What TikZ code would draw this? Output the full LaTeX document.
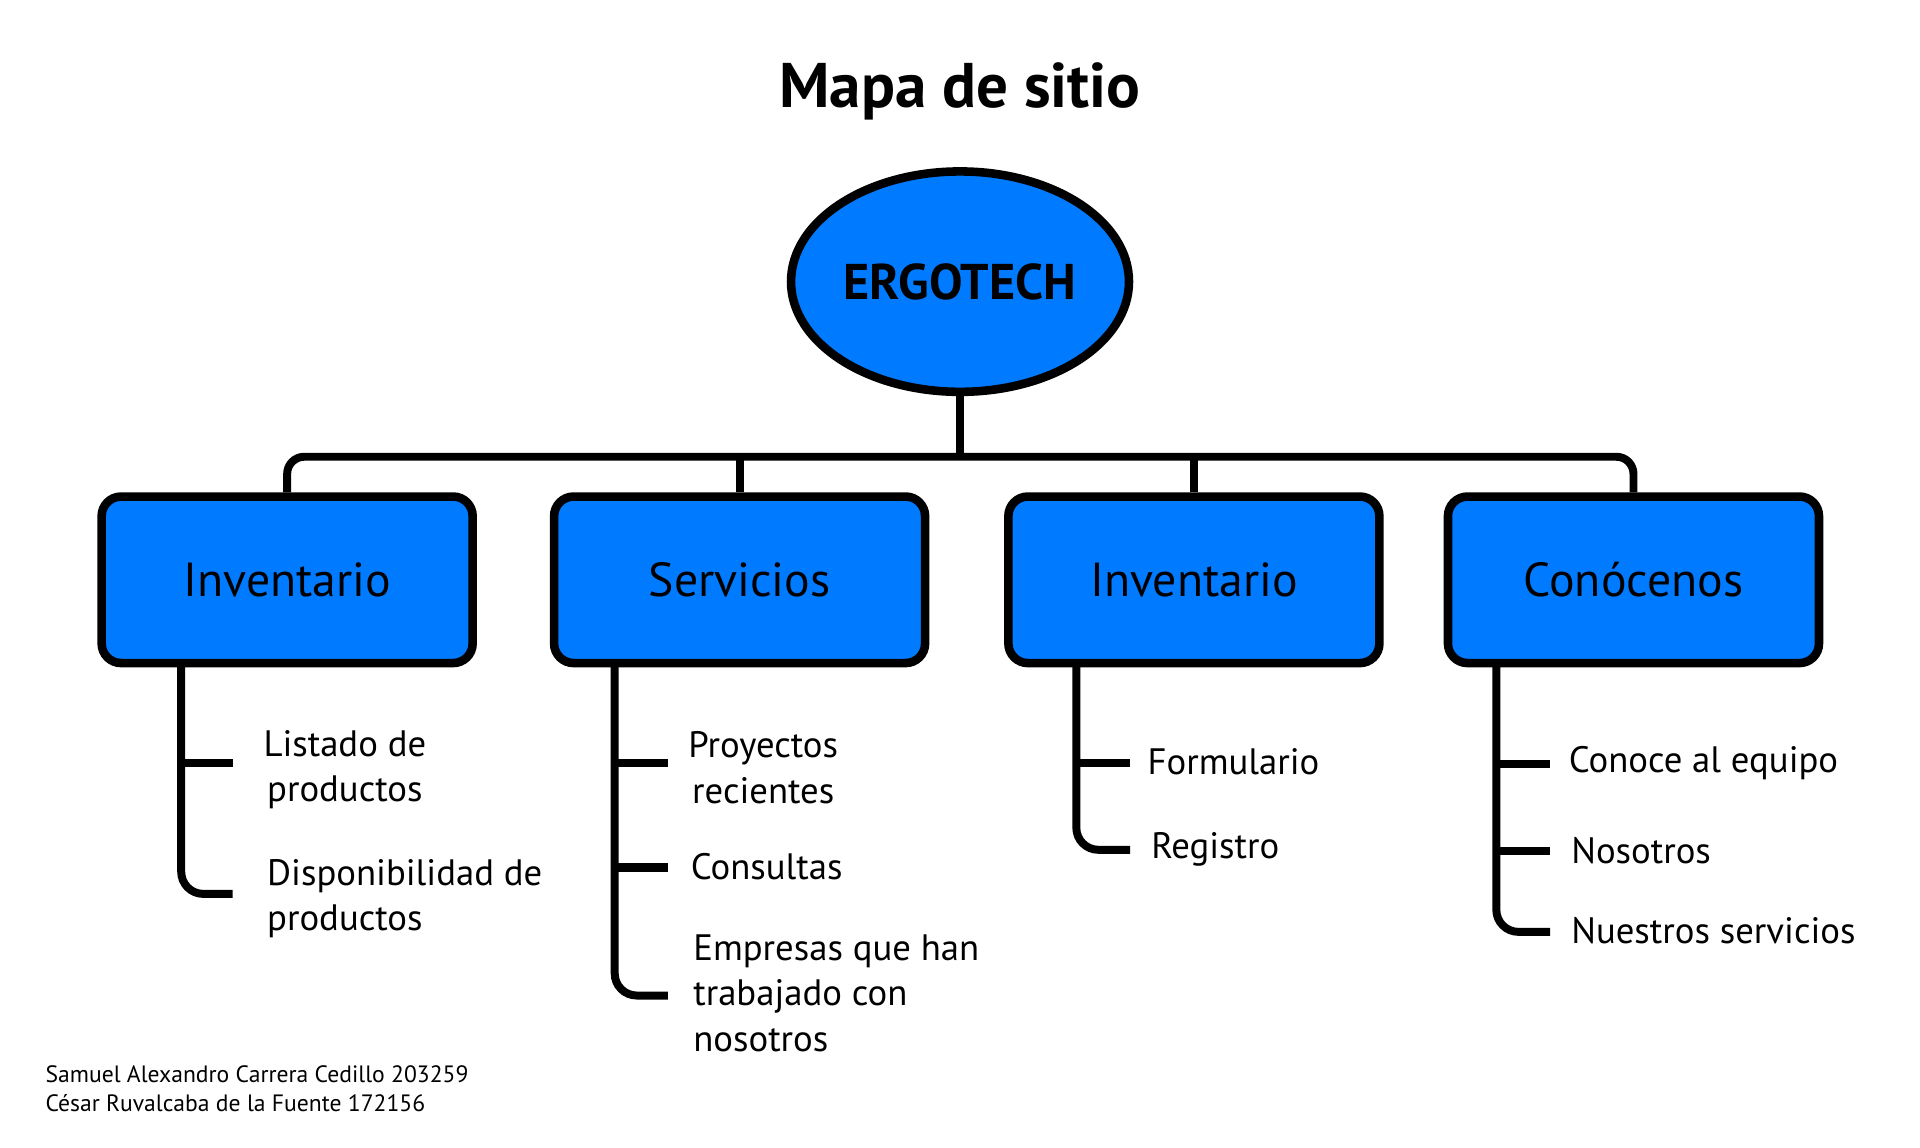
\documentclass[tikz,border=0pt]{standalone}
\usepackage{fontspec}
\setmainfont{PT Sans}
\usetikzlibrary{shapes.geometric}
\definecolor{boxblue}{RGB}{0,122,255}
\tikzset{
  x=1pt, y=-1pt,
  ellnode/.style={ellipse, draw=black, line width=7pt, fill=boxblue, minimum width=276pt, minimum height=180pt, inner sep=0pt},
  catbox/.style={rectangle, rounded corners=16pt, draw=black, line width=7pt, fill=boxblue, minimum width=303pt, minimum height=136pt, inner sep=0pt, font=\fontsize{39}{44}\selectfont},
  conn/.style={line width=6.5pt, draw=black},
  branch/.style={line width=6.5pt, draw=black, rounded corners=18pt},
  tick/.style={line width=7pt, draw=black},
  leaf/.style={anchor=west, inner sep=0pt, align=left, font=\fontsize{30}{37}\selectfont},
  leafc/.style={anchor=west, inner sep=0pt, align=center, font=\fontsize{30}{37}\selectfont},
  foot/.style={anchor=west, inner sep=0pt, align=left, font=\fontsize{19.3}{24}\selectfont},
}
\begin{document}
\begin{tikzpicture}
\useasboundingbox[fill=white] (0,0) rectangle (1568,937);
% title
\node[inner sep=0pt, font=\fontsize{51.5}{56}\selectfont\bfseries] (title) at (784,75) {Mapa de sitio};
% root
\node[ellnode, font=\fontsize{41}{46}\selectfont\bfseries] (root) at (784,230) {ERGOTECH};
% category boxes
\node[catbox] (b1) at (234.5,473.5) {Inventario};
\node[catbox] (b2) at (604,473.5) {Servicios};
\node[catbox] (b3) at (975,473.5) {Inventario};
\node[catbox] (b4) at (1334,473.5) {Conócenos};
% top connectors
\coordinate (bar) at (784,373);
\draw[conn] (root.south) -- (bar);
\draw[conn, rounded corners=14pt] (b1.north) |- (bar) -| (b4.north);
\draw[conn] (b2.north) -- (b2.north |- bar);
\draw[conn] (b3.north) -- (b3.north |- bar);
% branch coordinates
\coordinate (s1) at (148,541.5);
\coordinate (s2) at (502,541.5);
\coordinate (s3) at (879,541.5);
\coordinate (s4) at (1222,541.5);
% leaves
\node[leafc] (l11) at (215,628.5) {Listado de\\productos};
\node[leaf]  (l12) at (218,734) {Disponibilidad de\\productos};
\node[leafc] (l21) at (562,627) {Proyectos\\recientes};
\node[leaf]  (l22) at (564,708) {Consultas};
\node[leaf]  (l23) at (566,811) {Empresas que han\\trabajado con\\nosotros};
\node[leaf]  (l31) at (937,622) {Formulario};
\node[leaf]  (l32) at (940,694) {Registro};
\node[leaf]  (l41) at (1281,623) {Conoce al equipo};
\node[leaf]  (l42) at (1283,695) {Nosotros};
\node[leaf]  (l43) at (1283,760) {Nuestros servicios};
% tick end points
\coordinate (t11) at (190,623);
\coordinate (t12) at (190,730);
\coordinate (t21) at (545.5,623);
\coordinate (t22) at (545.5,708.5);
\coordinate (t23) at (545.5,813);
\coordinate (t31) at (923,623);
\coordinate (t32) at (923,694);
\coordinate (t41) at (1266,624);
\coordinate (t42) at (1266,695);
\coordinate (t43) at (1266,761);
% branches
\draw[branch] (s1) |- (t12);
\draw[tick] (s1 |- t11) -- (t11);
\draw[branch] (s2) |- (t23);
\draw[tick] (s2 |- t21) -- (t21);
\draw[tick] (s2 |- t22) -- (t22);
\draw[branch] (s3) |- (t32);
\draw[tick] (s3 |- t31) -- (t31);
\draw[branch] (s4) |- (t43);
\draw[tick] (s4 |- t41) -- (t41);
\draw[tick] (s4 |- t42) -- (t42);
% footer
\node[foot] (f1) at (37,889) {Samuel Alexandro Carrera Cedillo 203259\\César Ruvalcaba de la Fuente 172156};
\end{tikzpicture}
\end{document}
